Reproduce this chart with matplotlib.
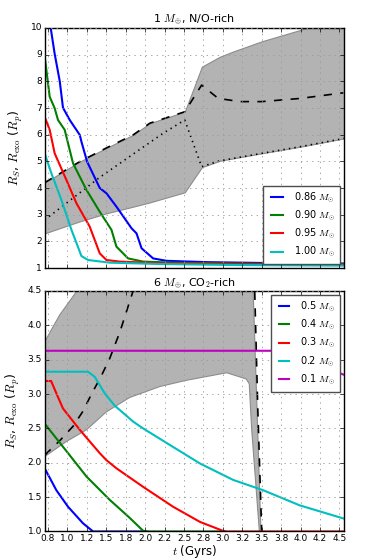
import numpy as np
import matplotlib
matplotlib.use("Agg")
import matplotlib.pyplot as plt
from matplotlib.ticker import FormatStrFormatter

plt.style.use('classic')
plt.rcParams['figure.facecolor'] = 'white'
plt.rcParams['savefig.facecolor'] = 'white'
plt.rcParams['mathtext.fontset'] = 'cm'
plt.rcParams['font.family'] = ['DejaVu Sans']

# ---- top panel: 1 M_earth, N/O-rich ----
top_labels = ['0.86 $M_{\\odot}$', '0.90 $M_{\\odot}$', '0.95 $M_{\\odot}$', '1.00 $M_{\\odot}$']
top_colors = ['b', 'g', 'r', 'c']

t_086 = [0.785, 0.836, 0.901, 0.943, 1.03, 1.159, 1.18, 1.253, 1.416, 1.503, 1.631, 1.825, 1.889, 1.954, 2.103, 2.276, 2.8, 3.5, 4.56]
r_086 = [10.0, 9.03, 8.01, 7.01, 6.55, 5.99, 5.74, 4.99, 4.0, 3.80, 3.30, 2.49, 2.30, 1.74, 1.36, 1.27, 1.22, 1.19, 1.17]
t_090 = [0.707, 0.772, 0.836, 0.879, 0.965, 1.072, 1.137, 1.245, 1.416, 1.567, 1.631, 1.781, 1.974, 2.5, 3.5, 4.56]
r_090 = [8.95, 7.42, 6.99, 6.55, 6.18, 4.93, 4.55, 3.93, 3.11, 2.43, 1.80, 1.36, 1.24, 1.19, 1.16, 1.14]
t_095 = [0.707, 0.772, 0.836, 0.987, 1.116, 1.287, 1.416, 1.502, 1.674, 2.2, 3.2, 4.56]
r_095 = [6.67, 6.18, 5.30, 4.30, 3.43, 2.55, 1.55, 1.30, 1.24, 1.18, 1.14, 1.12]
t_100 = [0.707, 0.794, 0.923, 1.052, 1.18, 1.266, 1.545, 2.2, 3.2, 4.56]
r_100 = [5.30, 4.55, 3.55, 2.43, 1.45, 1.30, 1.20, 1.15, 1.11, 1.09]
top_t = [t_086, t_090, t_095, t_100]
top_r = [r_086, r_090, r_095, r_100]

band1_t = [0.707, 1.159, 1.5, 1.845, 2.06, 2.51, 2.73, 2.96, 3.134, 3.5, 4.0, 4.56]
band1_lo = [2.30, 2.75, 3.05, 3.30, 3.46, 3.84, 4.78, 5.02, 5.11, 5.30, 5.55, 5.86]
band1_hi = [4.20, 4.99, 5.5, 5.99, 6.43, 6.86, 8.55, 8.92, 9.12, 9.50, 9.93, 10.4]

dash1_t = [0.707, 1.159, 1.5, 1.845, 2.06, 2.51, 2.727, 2.94, 3.22, 3.5, 4.0, 4.55]
dash1_r = [4.20, 4.99, 5.5, 5.99, 6.43, 6.86, 7.86, 7.36, 7.24, 7.24, 7.36, 7.57]
dot1_t = [0.707, 1.416, 2.23, 2.51, 2.727, 2.96, 3.134, 3.5, 4.0, 4.56]
dot1_r = [2.80, 4.40, 6.05, 6.55, 4.80, 5.02, 5.11, 5.30, 5.55, 5.86]

# ---- bottom panel: 6 M_earth, CO2-rich ----
bot_labels = ['0.5 $M_{\\odot}$', '0.4 $M_{\\odot}$', '0.3 $M_{\\odot}$', '0.2 $M_{\\odot}$', '0.1 $M_{\\odot}$']
bot_colors = ['b', 'g', 'r', 'c', 'm']

t_05 = [0.707, 0.858, 1.008, 1.2, 1.33, 2.0]
r_05 = [1.92, 1.60, 1.36, 1.12, 1.0, 1.0]
t_04 = [0.707, 1.008, 1.245, 1.545, 1.8, 1.974, 2.05, 3.0]
r_04 = [2.57, 2.14, 1.80, 1.46, 1.20, 1.01, 1.0, 1.0]
t_03 = [0.707, 0.79, 0.858, 0.943, 1.159, 1.416, 1.5, 1.63, 1.974, 2.36, 2.705, 3.0, 3.05, 4.56]
r_03 = [3.19, 3.19, 3.01, 2.79, 2.48, 2.14, 2.04, 1.92, 1.65, 1.36, 1.14, 1.01, 1.0, 1.0]
t_02 = [0.707, 1.265, 1.352, 1.48, 1.61, 1.845, 1.974, 2.36, 2.705, 3.134, 3.52, 3.99, 4.55]
r_02 = [3.325, 3.325, 3.25, 3.01, 2.83, 2.60, 2.50, 2.23, 1.99, 1.75, 1.60, 1.38, 1.19]
t_01 = [0.707, 4.25, 4.35, 4.49, 4.56]
r_01 = [3.63, 3.63, 3.45, 3.31, 3.28]
bot_t = [t_05, t_04, t_03, t_02, t_01]
bot_r = [r_05, r_04, r_03, r_02, r_01]

band2_lo_t = [0.707, 0.987, 1.245, 1.50, 1.8, 2.19, 2.53, 3.05, 3.30, 3.34, 3.37, 3.47]
band2_lo = [2.09, 2.31, 2.48, 2.74, 2.95, 3.11, 3.20, 3.31, 3.22, 3.15, 2.5, 1.0]
band2_hi_t = [0.707, 0.9, 1.116, 1.5, 2.5, 3.3, 3.39, 3.44, 3.49]
band2_hi = [3.76, 4.15, 4.49, 5.0, 5.5, 5.5, 4.5, 2.77, 1.0]

dash2_t = [0.707, 0.9, 1.072, 1.2, 1.31, 1.43, 1.545, 1.674, 1.845, 2.0, 2.6, 3.30, 3.41, 3.45, 3.50, 3.52]
dash2_r = [2.11, 2.32, 2.53, 2.75, 3.0, 3.25, 3.52, 3.90, 4.50, 5.1, 6.0, 5.0, 4.5, 2.77, 1.0, 0.5]

xticks = np.arange(0.75, 4.51, 0.25)

fig = plt.figure(figsize=(3.74, 5.6), dpi=100)
ax1 = fig.add_axes([0.120, 0.5214, 0.800, 0.4286])
ax2 = fig.add_axes([0.120, 0.0509, 0.800, 0.4295])

# top
ax1.fill_between(band1_t, band1_lo, band1_hi, facecolor='0.7', edgecolor='0.55', lw=0.8)
ax1.plot(dash1_t, dash1_r, 'k--', lw=1.2)
ax1.plot(dot1_t, dot1_r, 'k:', lw=1.2)
for t, r, c, lab in zip(top_t, top_r, top_colors, top_labels):
    ax1.plot(t, r, color=c, lw=1.5, label=lab)
ax1.set_ylim(1, 10)
ax1.set_yticks(np.arange(1, 11, 1))
ax1.set_title('1 $M_{\\oplus}$, N/O-rich', fontsize=8, pad=4)
leg1 = ax1.legend(loc='lower right', fontsize=7, handlelength=1.8, handletextpad=0.9,
                  labelspacing=0.42, borderpad=0.5, borderaxespad=0.4, fancybox=False)
leg1.get_frame().set_edgecolor('0.3')

# bottom
poly_x = list(band2_lo_t) + list(band2_hi_t[::-1])
poly_y = list(band2_lo) + list(band2_hi[::-1])
ax2.fill(poly_x, poly_y, facecolor='0.7', edgecolor='0.55', lw=0.8)
ax2.plot(dash2_t, dash2_r, 'k--', lw=1.2)
for t, r, c, lab in zip(bot_t, bot_r, bot_colors, bot_labels):
    ax2.plot(t, r, color=c, lw=1.5, label=lab)
ax2.set_ylim(1.0, 4.5)
ax2.set_yticks(np.arange(1.0, 4.51, 0.5))
ax2.yaxis.set_major_formatter(FormatStrFormatter('%.1f'))
ax2.set_title('6 $M_{\\oplus}$, CO$_2$-rich', fontsize=8, pad=3)
leg2 = ax2.legend(loc='upper right', fontsize=7, handlelength=1.6, handletextpad=0.9,
                  labelspacing=0.42, borderpad=0.5, borderaxespad=0.4, fancybox=False)
leg2.get_frame().set_edgecolor('0.3')
ax2.set_xlabel('$t$ (Gyrs)', fontsize=8.5, labelpad=0)

for ax in (ax1, ax2):
    ax.set_xlim(0.71, 4.56)
    ax.set_xticks(xticks)
    ax.xaxis.set_major_formatter(FormatStrFormatter('%.1f'))
    ax.grid(True, color='0.6', linestyle=':', lw=0.6)
    ax.tick_params(labelsize=6.5, length=3, pad=2)
    ax.set_ylabel('$R_S$, $R_{\\rm exo}$ ($R_p$)', fontsize=9, labelpad=4)
ax1.tick_params(labelbottom=False)

fig.savefig('out.png', dpi=100)
